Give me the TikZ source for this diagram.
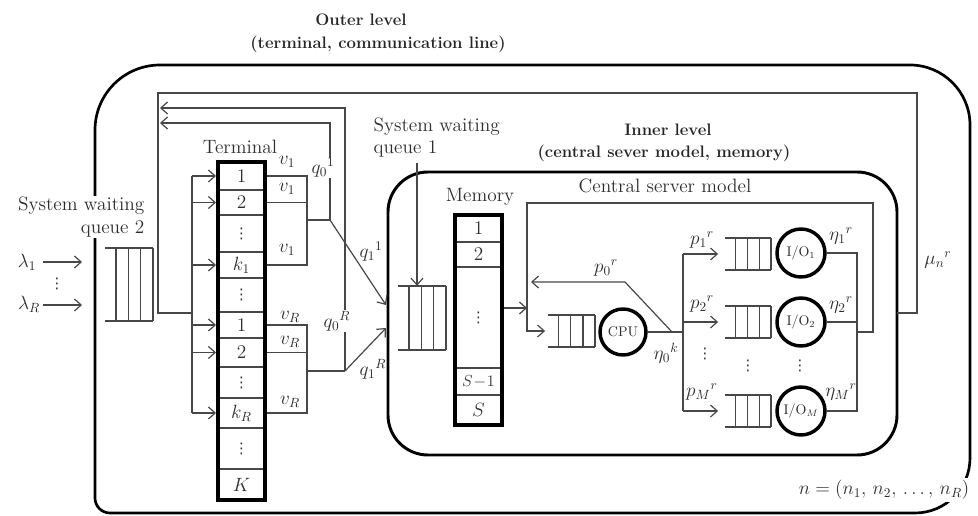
\documentclass[tikz,border=0pt]{standalone}
\usepackage{fontspec}
\newfontfamily\dvs{DejaVu Sans}
\usetikzlibrary{arrows.meta,calc}
\newcommand{\qdraw}[5]{%
  \node[inner sep=0pt, minimum width={(#4-#2)*0.75pt}, minimum height={(#5-#3)*0.75pt}] (#1) at ({(#2+#4)/2},{(#3+#5)/2}) {};
  \draw[ln] (#2,#3) -- (#4,#3) (#2,#5) -- (#4,#5);
  \foreach \qi in {0,1,2,3} {\draw[ln] ({#2+(#4-#2)*(0.23+0.77*\qi/3)},#3) -- ({#2+(#4-#2)*(0.23+0.77*\qi/3)},#5);}
}
\newcommand{\smdots}{{\dvs\fontsize{11}{11}\selectfont ⋮}}
\tikzset{
  ln/.style={draw=black!72, line width=0.9pt},
  arr/.style={ln, -{Straight Barb[length=5pt,width=9pt,line width=0.9pt]}},
  thickbox/.style={draw=black, line width=3pt, inner sep=0pt},
  lbl/.style={inner sep=1pt, text=black!82},
  ttl/.style={inner sep=1pt, text=black!85, font=\fontsize{12.5}{15}\selectfont\bfseries},
  circ/.style={circle, draw=black, line width=2.6pt, inner sep=0pt, text=black!82},
  outerbox/.style={draw=black, line width=2pt},
}
\begin{document}
\begin{tikzpicture}[x=0.75pt,y=-0.75pt, font=\fontsize{14.5}{17}\selectfont]
\useasboundingbox (0,0) rectangle (978,516);

% ---------- outer box ----------
\draw[outerbox] (95,130) .. controls (95,94.1) and (124.1,65) .. (160,65) -- (910,65)
  .. controls (943.1,65) and (970,91.9) .. (970,125) -- (970,458)
  .. controls (970,488.4) and (945.4,513) .. (915,513) -- (110,513)
  .. controls (101.7,513) and (95,506.3) .. (95,498) -- cycle;
\node[ttl] (outt) at (361,20) {Outer level};
\node[ttl] (outs) at (378,44) {(terminal, communication line)};

% ---------- inner box ----------
\node[draw=black, line width=2.2pt, rounded corners=30pt, minimum width=381.75pt, minimum height=212.25pt] (inner) at (642.5,313.5) {};
\node[ttl] (innt) at (668,130) {Inner level};
\node[ttl] (inns) at (664,153) {(central sever model, memory)};
\node[lbl] (csm) at (665,186) {Central server model};

% ---------- system waiting queue 2 ----------
\node[lbl, fill=white, align=right, anchor=east] (sq2lab) at (146,217) {System waiting\\queue 2};
\qdraw{sq2}{105}{248}{153}{321}
\node[lbl] (lam1) at (27,262) {$\lambda_1$};
\node[lbl] (lamR) at (29,304) {$\lambda_R$};
\node[lbl] (lamd) at (57,284) {\smdots};
\coordinate (l1s) at (43,262); \coordinate (l1e) at (82,262);
\coordinate (lRs) at (43,305); \coordinate (lRe) at (82,305);
\draw[arr] (l1s) -- (l1e);
\draw[arr] (lRs) -- (lRe);

% ---------- terminal ----------
\node[lbl] (termlab) at (240,147) {Terminal};
\foreach \yy in {190,215,252,278,312,338,367,398,428,469} \draw[ln] (218,\yy) -- (265,\yy);
\node[thickbox, minimum width=35.25pt, minimum height=253.5pt] (term) at (241.5,331) {};
\node[lbl] (t1) at (241.5,176) {1};
\node[lbl] (t2) at (241.5,202.5) {2};
\node[lbl] (td1) at (241.5,233.5) {\smdots};
\node[lbl] (tk1) at (241.5,265) {$k_1$};
\node[lbl] (td2) at (241.5,295) {\smdots};
\node[lbl] (tR1) at (241.5,325) {1};
\node[lbl] (tR2) at (241.5,352.5) {2};
\node[lbl] (td3) at (241.5,382.5) {\smdots};
\node[lbl] (tkR) at (241.5,413) {$k_R$};
\node[lbl] (td4) at (241.5,448.5) {\smdots};
\node[lbl] (tK) at (241.5,484.5) {$K$};

% input bus
\coordinate (busT) at (192,176);
\coordinate (busB) at (192,413);
\coordinate (busM) at (192,313);
\draw[ln] (busT) -- (busB);
\foreach \c in {t1,t2,tk1,tR1,tR2,tkR} \draw[arr] (busT |- \c) -- (term.west |- \c);

% outputs of groups
\coordinate (g1) at (307,220);
\coordinate (gR) at (307,371);
\draw[ln] (term.east |- t1) -| (g1);
\draw[ln] (term.east |- tk1) -| (g1);
\draw[ln] (term.east |- t2) -- (g1 |- t2);
\draw[ln] (term.east |- tR1) -| (gR);
\draw[ln] (term.east |- tkR) -| (gR);
\draw[ln] (term.east |- tR2) -- (gR |- tR2);
\coordinate (j1) at (330,220);
\coordinate (jR) at (345,371);
\draw[ln] (g1) -- (j1);
\draw[ln] (gR) -- (jR);
\coordinate (fb1) at (160,123);
\coordinate (fbR) at (160,108);
\draw[arr] (j1) |- (fb1);
\draw[arr] (jR) |- (fbR);
\coordinate (in1) at (386,305);
\coordinate (inR) at (386,328);
\draw[arr] (j1) -- (in1);
\draw[arr] (jR) -- (inR);

% v labels
\node[lbl] (v11) at (287,162) {$v_1$};
\node[lbl] (v12) at (287,189) {$v_1$};
\node[lbl] (v13) at (287,250) {$v_1$};
\node[lbl] (vR1) at (290,317) {$v_R$};
\node[lbl] (vR2) at (290,342) {$v_R$};
\node[lbl] (vR3) at (290,402) {$v_R$};
\node[lbl, fill=white, inner sep=0.5pt] (q01) at (323,168) {$q_0{}^1$};
\node[lbl, fill=white, inner sep=0.5pt] (q0R) at (337,321) {$q_0{}^R$};
\node[lbl] (q11) at (371,252) {$q_1{}^1$};
\node[lbl] (q1R) at (373,369) {$q_1{}^R$};

% outer feedback loop
\coordinate (mu0) at (897,313);
\coordinate (fbTR) at (917,93);
\coordinate (fbTL) at (158,93);
\coordinate (fbBL) at (158,313);
\draw[ln] (mu0) -| (fbTR) -- (fbTL) -- (fbBL) -- (busM);
\node[lbl] (mu) at (938,260) {$\mu_n{}^r$};

% ---------- system waiting queue 1 ----------
\node[lbl, align=left, anchor=north west] (sq1lab) at (372,116) {System waiting\\queue 1};
\qdraw{sq1}{398}{286}{446}{350}
\coordinate (a1) at (417,163);
\draw[arr] (a1) -- (a1 |- sq1.north);

% ---------- memory ----------
\node[lbl] (memlab) at (480,197) {Memory};
\foreach \yy in {242,267,368,395} \draw[ln] (455,\yy) -- (502,\yy);
\node[thickbox, minimum width=35.25pt, minimum height=157.5pt] (mem) at (478.5,320) {};
\node[lbl] (m1) at (478.5,228.5) {1};
\node[lbl] (m2) at (478.5,254.5) {2};
\node[lbl] (md) at (478.5,318) {\smdots};
\node[lbl, font=\fontsize{12.5}{14}\selectfont] (mS1) at (478.5,381.5) {$S\!-\!1$};
\node[lbl] (mS) at (478.5,410) {$S$};

% ---------- central server ----------
\qdraw{cpuq}{548}{315}{595}{347}
\node[circ, minimum size=34.5pt] (cpu) at (623,332) {\fontsize{10.5}{10.5}\selectfont CPU};
\coordinate (cs1) at (527,308);
\draw[arr] (mem.east |- cs1) -- (cs1);
\coordinate (cs0) at (527,203);
\coordinate (cs2) at (527,331);
\coordinate (ioJ) at (857,332);
\coordinate (ioJ2) at (873,332);
\coordinate (csTR) at (873,203);
\draw[arr, shorten >=2pt] (ioJ) -- (ioJ2) -- (csTR) -- (cs0) -- (cs2) -- (cpuq.west);

\coordinate (jc) at (683,332);
\draw[ln] (cpu.east) -- (jc);
\coordinate (pb1) at (683,254);
\coordinate (pbM) at (683,411);
\draw[ln] (pb1) -- (pbM);
\qdraw{ioq1}{725}{238}{771}{270}
\qdraw{ioq2}{725}{306}{771}{338}
\qdraw{ioqM}{725}{395}{771}{427}
\node[circ, minimum size=36pt] (io1) at (801,253) {\fontsize{10.5}{10.5}\selectfont I/O$_1$};
\node[circ, minimum size=36pt] (io2) at (801,322) {\fontsize{10.5}{10.5}\selectfont I/O$_2$};
\node[circ, minimum size=36pt] (ioM) at (801,411) {\fontsize{10.5}{10.5}\selectfont I/O$_M$};
\foreach \q in {ioq1,ioq2,ioqM} \draw[arr, shorten >=5pt] (pb1 |- \q) -- (\q.west);
\draw[ln] (io1.east) -| (ioJ);
\draw[ln] (ioM.east) -| (ioJ);
\draw[ln] (io2.east) -- (io2.east -| ioJ);

\coordinate (p0s) at (672,332);
\coordinate (p0k) at (625,282);
\coordinate (p0e) at (531,282);
\draw[arr] (p0s) -- (p0k) -- (p0e);

\node[lbl] (p0) at (606,268) {$p_0{}^r$};
\node[lbl] (p1) at (702,240) {$p_1{}^r$};
\node[lbl] (p2) at (702,304) {$p_2{}^r$};
\node[lbl] (pM) at (702,392) {$p_M{}^r$};
\node[lbl] (eta0) at (666,353) {$\eta_0{}^k$};
\node[lbl] (eta1) at (841,236) {$\eta_1{}^r$};
\node[lbl] (eta2) at (841,305) {$\eta_2{}^r$};
\node[lbl] (etaM) at (841,392) {$\eta_M{}^r$};
\node[lbl] (dp) at (705,354) {\smdots};
\node[lbl] (dq) at (748,366) {\smdots};
\node[lbl] (dio) at (800,366) {\smdots};

\node[lbl, fill=white, inner sep=2pt] (nvec) at (884,490) {$n=(n_1,\,n_2,\,\ldots,\,n_R)$};
\end{tikzpicture}
\end{document}
